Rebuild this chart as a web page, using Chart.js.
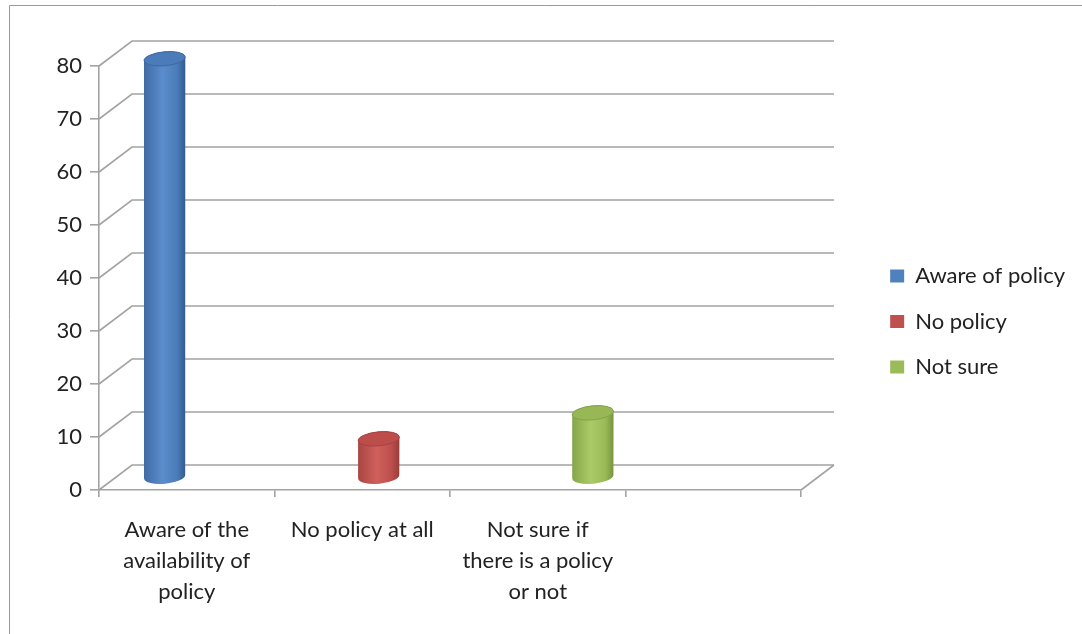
<!DOCTYPE html>
<html>
<head>
<meta charset="utf-8">
<script src="https://cdn.jsdelivr.net/npm/chart.js@4.4.1/dist/chart.umd.min.js"></script>
<style>
  html, body { margin: 0; padding: 0; background: #fff; }
  #wrap { width: 1082px; height: 634px; }
</style>
</head>
<body>
<div id="wrap"><canvas id="policyChart" width="1082" height="634"></canvas></div>
<script>
const categories = [['Aware of the', 'availability of', 'policy'], 'No policy at all', ['Not sure if', 'there is a policy', 'or not'], ''];
const seriesNames = ['Aware of policy', 'No policy', 'Not sure'];
const awareValues = [79, null, null, null];
const noPolicyValues = [null, 7.3, null, null];
const notSureValues = [null, null, 12.2, null];
const yMin = 0, yMax = 80, yStep = 10;

const seriesColors = ['#4F81BD', '#C0504D', '#9BBB59'];
const cylinderShades = [
    { edge: '#3f6ba4', light: '#5b8dcd', base: '#4a7cb9', dark: '#335b8f', top: '#4b7bb9', rim: '#3d689f' },
    { edge: '#a94542', light: '#d0605c', base: '#bf4f4c', dark: '#963d3a', top: '#bd4d4a', rim: '#a44340' },
    { edge: '#86a548', light: '#abca67', base: '#9aba58', dark: '#78943f', top: '#98b857', rim: '#84a247' }
];

const gridColor = '#a3a3a3';
const textColor = '#222';
const DX = 33, DY = 25;   // depth offset of the back wall
const TILT = -0.1;

function drawCylinder(ctx, cx, top, base, rx, ry, c) {
    const g = ctx.createLinearGradient(cx - rx, 0, cx + rx, 0);
    g.addColorStop(0, c.edge);
    g.addColorStop(0.45, c.light);
    g.addColorStop(0.8, c.base);
    g.addColorStop(1, c.dark);
    ctx.fillStyle = g;
    ctx.beginPath();
    ctx.moveTo(cx - rx, top);
    ctx.lineTo(cx - rx, base);
    ctx.ellipse(cx, base, rx, ry, TILT, Math.PI, 0, true);
    ctx.lineTo(cx + rx, top);
    ctx.ellipse(cx, top, rx, ry, TILT, 0, Math.PI, true);
    ctx.closePath();
    ctx.fill();

    ctx.fillStyle = c.top;
    ctx.strokeStyle = c.rim;
    ctx.lineWidth = 1;
    ctx.beginPath();
    ctx.ellipse(cx, top, rx, ry, TILT, 0, Math.PI * 2);
    ctx.fill();
    ctx.stroke();
}

const depthPlugin = {
    id: 'depth',
    beforeDraw(chart) {
        const ctx = chart.ctx;
        ctx.save();
        ctx.strokeStyle = '#9a9a9a';
        ctx.lineWidth = 1;
        ctx.beginPath();
        ctx.moveTo(9.5, chart.height);
        ctx.lineTo(9.5, 5.5);
        ctx.lineTo(chart.width, 5.5);
        ctx.stroke();
        ctx.restore();
    },
    beforeDatasetsDraw(chart) {
        const { ctx, chartArea: a, scales: { y } } = chart;
        ctx.save();
        ctx.strokeStyle = gridColor;
        ctx.lineWidth = 1.6;
        y.ticks.forEach(t => {
            const py = y.getPixelForValue(t.value);
            ctx.beginPath();
            ctx.moveTo(a.left, py);
            ctx.lineTo(a.left + DX, py - DY);
            ctx.lineTo(a.right + DX, py - DY);
            ctx.stroke();
        });
        ctx.beginPath();
        ctx.moveTo(a.right, a.bottom);
        ctx.lineTo(a.right + DX, a.bottom - DY);
        ctx.stroke();

        chart.data.datasets.forEach((ds, i) => {
            const meta = chart.getDatasetMeta(i);
            meta.data.forEach((bar, j) => {
                if (ds.data[j] == null) return;
                drawCylinder(ctx, bar.x + DX / 2, bar.y - DY / 2, bar.base - DY / 2,
                    bar.width / 2, 7, cylinderShades[i]);
            });
        });
        ctx.restore();
        return false;
    }
};

const labelFont = { family: 'Lato, "Open Sans", sans-serif', size: 22 };
const PAD_RIGHT = 7;

const ctx = document.getElementById('policyChart').getContext('2d');
const policyChart = new Chart(ctx, {
    type: 'bar',
    data: {
        labels: categories,
        datasets: [
            { label: seriesNames[0], data: awareValues, backgroundColor: seriesColors[0] },
            { label: seriesNames[1], data: noPolicyValues, backgroundColor: seriesColors[1] },
            { label: seriesNames[2], data: notSureValues, backgroundColor: seriesColors[2] }
        ]
    },
    plugins: [depthPlugin],
    options: {
        responsive: false,
        devicePixelRatio: 1,
        animation: false,
        categoryPercentage: 0.66,
        barPercentage: 1.07,
        layout: { padding: { top: 9, right: PAD_RIGHT, bottom: 0, left: 0 } },
        plugins: {
            tooltip: { enabled: false },
            title: {
                display: true,
                text: '',
                fullSize: false,
                font: { size: 10, lineHeight: 1 },
                padding: { top: 47, bottom: 0 }
            },
            legend: {
                position: 'right',
                maxWidth: 320,
                labels: {
                    boxWidth: 14,
                    boxHeight: 13,
                    padding: 23.5,
                    color: textColor,
                    font: labelFont
                }
            }
        },
        scales: {
            x: {
                offset: true,
                grid: {
                    offset: true,
                    drawOnChartArea: false,
                    drawTicks: true,
                    tickLength: 7,
                    color: gridColor,
                    lineWidth: 1.6
                },
                border: { color: gridColor, width: 1.6 },
                ticks: {
                    color: textColor,
                    font: { ...labelFont, lineHeight: 1.41 },
                    padding: 17.5,
                    maxRotation: 0,
                    autoSkip: false
                },
                afterFit: s => { s.height = 144; }
            },
            y: {
                min: yMin,
                max: yMax,
                grid: {
                    drawOnChartArea: false,
                    drawTicks: true,
                    tickLength: 9,
                    color: gridColor,
                    lineWidth: 1.6
                },
                border: { color: gridColor, width: 1.6 },
                ticks: {
                    stepSize: yStep,
                    color: textColor,
                    font: labelFont,
                    padding: 8
                },
                afterFit: s => { s.width = 99; }
            },
            depthSpace: {
                type: 'linear',
                position: 'right',
                display: true,
                grid: { display: false },
                border: { display: false },
                ticks: { display: false },
                afterFit: s => {
                    s.width = Math.max(0, s.chart.width - PAD_RIGHT - s.chart.legend.width - 801);
                }
            }
        }
    }
});
</script>
</body>
</html>
